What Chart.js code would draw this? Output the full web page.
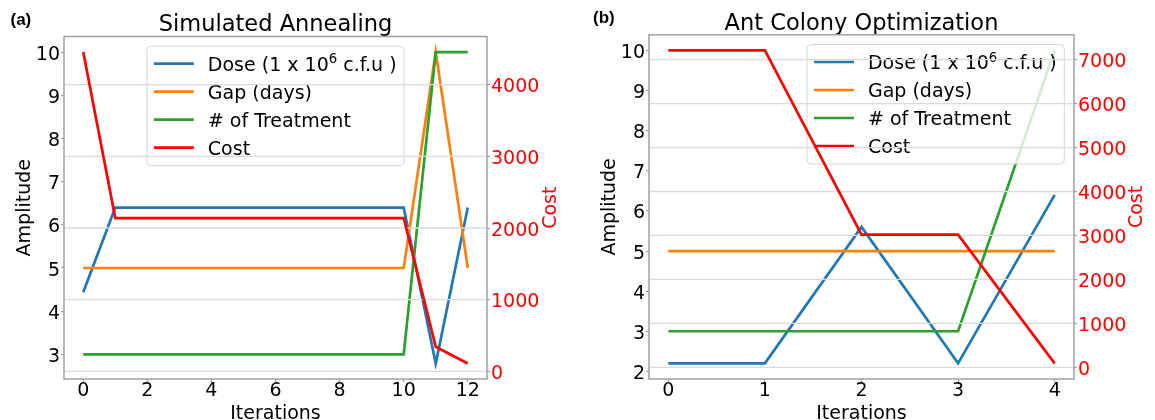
<!DOCTYPE html>
<html><head><meta charset="utf-8">
<script src="https://cdn.jsdelivr.net/npm/chart.js@4.4.0/dist/chart.umd.min.js"></script>
<style>
html,body{margin:0;padding:0;background:#fff;overflow:hidden;width:1155px;height:420px;}
#wrap{position:relative;width:1155px;height:420px;overflow:hidden;background:#fff;}
canvas{position:absolute;top:0;}
</style></head><body>
<div id="wrap">
<canvas id="ca" width="575" height="440" style="left:0px"></canvas>
<canvas id="cb" width="580" height="440" style="left:575px"></canvas>
</div>
<script>
// ---- shared ----
const seriesNames = ['Dose (1 x 10\u2076 c.f.u )', 'Gap (days)', '# of Treatment', 'Cost'];
const seriesColors = ['#1f77b4', '#ff7f0e', '#2ca02c', '#ff0000'];

// ---- (a) Simulated Annealing ----
const saIterations = [0, 1, 2, 3, 4, 5, 6, 7, 8, 9, 10, 11, 12];
const saDose      = [4.44, 6.4, 6.4, 6.4, 6.4, 6.4, 6.4, 6.4, 6.4, 6.4, 6.4, 2.79, 6.4];
const saGap       = [5, 5, 5, 5, 5, 5, 5, 5, 5, 5, 5, 10, 5];
const saTreatment = [3, 3, 3, 3, 3, 3, 3, 3, 3, 3, 3, 10, 10];
const saCost      = [4454, 2139, 2139, 2139, 2139, 2139, 2139, 2139, 2139, 2139, 2139, 344, 111];
const saXTicks    = [0, 2, 4, 6, 8, 10, 12];
const saAmpTicks  = [3, 4, 5, 6, 7, 8, 9, 10];
const saCostTicks = [0, 1000, 2000, 3000, 4000];

// ---- (b) Ant Colony Optimization ----
const acoIterations = [0, 1, 2, 3, 4];
const acoDose      = [2.2, 2.2, 5.6, 2.2, 6.4];
const acoGap       = [5, 5, 5, 5, 5];
const acoTreatment = [3, 3, 3, 3, 10];
const acoCost      = [7210, 7210, 3020, 3020, 90];
const acoXTicks    = [0, 1, 2, 3, 4];
const acoAmpTicks  = [2, 3, 4, 5, 6, 7, 8, 9, 10];
const acoCostTicks = [0, 1000, 2000, 3000, 4000, 5000, 6000, 7000];

const F = 'DejaVu Sans';
const FS = 19;
const TICKC = '#a0a0a0';

const panels = [
  { canvas: 'ca', title: 'Simulated Annealing', tag: '(a)', tagX: 10.5, tagY: 24.7,
    x: saIterations, series: [saDose, saGap, saTreatment, saCost],
    xTicks: saXTicks, ampTicks: saAmpTicks, costTicks: saCostTicks,
    leftW: 64, rightW: 88, titlePad: {top: 13.5, bottom: 0.5}, ampPad: 13.5, costX: 550.8, legend: 'center' },
  { canvas: 'cb', title: 'Ant Colony Optimization', tag: '(b)', tagX: 18, tagY: 23.1,
    x: acoIterations, series: [acoDose, acoGap, acoTreatment, acoCost],
    xTicks: acoXTicks, ampTicks: acoAmpTicks, costTicks: acoCostTicks,
    leftW: 74, rightW: 81, titlePad: {top: 12.5, bottom: -0.2}, ampPad: 23.8, costX: 562, legend: 'right' }
];

function padRange(arrs) {
  let mn = Infinity, mx = -Infinity;
  arrs.forEach(a => a.forEach(v => { mn = Math.min(mn, v); mx = Math.max(mx, v); }));
  const r = mx - mn;
  return [mn - 0.05 * r, mx + 0.05 * r];
}

function makeDecor(p) {
  function drawLegend(chart) {
    const ctx = chart.ctx, ca = chart.chartArea;
    const fBase = FS + 'px "' + F + '"', fSup = (FS * 0.7) + 'px "' + F + '"';
    ctx.save();
    const widths = seriesNames.map(n => {
      ctx.font = fBase;
      const parts = n.split('\u2076');
      if (parts.length === 1) return ctx.measureText(n).width;
      let w = ctx.measureText(parts[0]).width + ctx.measureText(parts[1]).width;
      ctx.font = fSup; w += ctx.measureText('6').width;
      return w;
    });
    const boxW = 61 + Math.max(...widths) + 7.6, boxH = 119.5;
    const top = ca.top + 9.7;
    const left = p.legend === 'center' ? (ca.left + ca.right) / 2 - boxW / 2 : ca.right - 9.7 - boxW;
    const r = 4;
    ctx.beginPath();
    ctx.moveTo(left + r, top);
    ctx.arcTo(left + boxW, top, left + boxW, top + boxH, r);
    ctx.arcTo(left + boxW, top + boxH, left, top + boxH, r);
    ctx.arcTo(left, top + boxH, left, top, r);
    ctx.arcTo(left, top, left + boxW, top, r);
    ctx.closePath();
    ctx.fillStyle = 'rgba(255,255,255,0.8)';
    ctx.fill();
    ctx.strokeStyle = 'rgba(204,204,204,0.8)';
    ctx.lineWidth = 1;
    ctx.stroke();
    seriesNames.forEach((n, i) => {
      const y = top + 17.5 + 28 * i;
      ctx.beginPath();
      ctx.moveTo(left + 7, y); ctx.lineTo(left + 47, y);
      ctx.strokeStyle = seriesColors[i]; ctx.lineWidth = 2.7; ctx.lineCap = 'butt';
      ctx.stroke();
      ctx.fillStyle = '#000';
      ctx.textAlign = 'left'; ctx.textBaseline = 'alphabetic';
      const by = y + 6.9;
      let x = left + 61;
      const parts = n.split('\u2076');
      ctx.font = fBase;
      ctx.fillText(parts[0], x, by);
      if (parts.length > 1) {
        x += ctx.measureText(parts[0]).width;
        ctx.font = fSup;
        ctx.fillText('6', x, by - 7.4);
        x += ctx.measureText('6').width;
        ctx.font = fBase;
        ctx.fillText(parts[1], x, by);
      }
    });
    ctx.restore();
  }
  function drawCostGrid(chart) {
    const ctx = chart.ctx, ca = chart.chartArea, s = chart.scales.y1;
    ctx.save();
    ctx.strokeStyle = '#dadada'; ctx.lineWidth = 1.3;
    p.costTicks.forEach(v => {
      const y = s.getPixelForValue(v);
      ctx.beginPath(); ctx.moveTo(ca.left, y); ctx.lineTo(ca.right, y); ctx.stroke();
    });
    ctx.restore();
  }
  return {
    id: 'mplDecor',
    beforeDraw(chart) {
      ['y', 'y1'].forEach(id => {
        const items = chart.scales[id].getLabelItems();
        items.forEach(it => { if (!it.__sh) { it.options.translation[1] += 2.6; it.__sh = true; } });
      });
    },
    beforeDatasetDraw(chart, args) {
      if (args.meta.yAxisID === 'y1') { drawLegend(chart); drawCostGrid(chart); }
    },
    afterDraw(chart) {
      const ctx = chart.ctx, ca = chart.chartArea;
      ctx.save();
      ctx.strokeStyle = TICKC; ctx.lineWidth = 1.5;
      ctx.strokeRect(ca.left, ca.top, ca.right - ca.left, ca.bottom - ca.top);
      ctx.fillStyle = '#ff0000';
      ctx.font = FS + 'px "' + F + '"';
      ctx.translate(p.costX, (ca.top + ca.bottom) / 2);
      ctx.rotate(-Math.PI / 2);
      ctx.textAlign = 'center'; ctx.textBaseline = 'middle';
      ctx.fillText('Cost', 0, 0);
      ctx.restore();
      ctx.save();
      ctx.fillStyle = '#000';
      ctx.font = 'bold 17px "Liberation Sans"';
      ctx.textAlign = 'left'; ctx.textBaseline = 'alphabetic';
      ctx.fillText(p.tag, p.tagX, p.tagY);
      ctx.restore();
    }
  };
}

panels.forEach(p => {
  const [xmin, xmax] = padRange([p.x]);
  const [amin, amax] = padRange(p.series.slice(0, 3));
  const [cmin, cmax] = padRange([p.series[3]]);
  const datasets = p.series.map((vals, i) => ({
    label: seriesNames[i],
    data: vals.map((v, j) => ({x: p.x[j], y: v})),
    borderColor: seriesColors[i], backgroundColor: seriesColors[i],
    borderWidth: 2.7, pointRadius: 0, pointHoverRadius: 0, tension: 0, fill: false,
    borderJoinStyle: 'miter',
    yAxisID: i === 3 ? 'y1' : 'y', order: 4 - i
  }));
  const tickFont = {family: F, size: FS, lineHeight: 1};
  new Chart(document.getElementById(p.canvas), {
    type: 'line',
    data: {datasets},
    options: {
      responsive: false, animation: false, devicePixelRatio: 1,
      layout: {padding: 0},
      plugins: {
        legend: {display: false}, tooltip: {enabled: false},
        title: {display: true, text: p.title, fullSize: false, color: '#000',
                font: {family: F, size: 22.5, weight: 'normal', lineHeight: 1}, padding: p.titlePad}
      },
      scales: {
        x: {
          type: 'linear', position: 'bottom', min: xmin, max: xmax,
          afterBuildTicks: s => { s.ticks = p.xTicks.map(v => ({value: v})); },
          afterFit: s => { s.height = 61; },
          ticks: {font: tickFont, color: '#000', padding: 0, maxRotation: 0, autoSkip: false, callback: v => String(v)},
          grid: {drawOnChartArea: false, drawTicks: true, tickLength: 3, tickColor: TICKC, tickWidth: 1.2},
          border: {display: false},
          title: {display: true, text: 'Iterations', color: '#000', font: {family: F, size: FS, lineHeight: 1.2}, padding: {top: 0, bottom: 14.4}}
        },
        y: {
          type: 'linear', position: 'left', min: amin, max: amax,
          afterBuildTicks: s => { s.ticks = p.ampTicks.map(v => ({value: v})); },
          afterFit: s => { s.width = p.leftW; },
          ticks: {font: tickFont, color: '#000', padding: 1, autoSkip: false, callback: v => String(v)},
          grid: {drawOnChartArea: false, drawTicks: true, tickLength: 3, tickColor: TICKC, tickWidth: 1.2},
          border: {display: false},
          title: {display: true, text: 'Amplitude', color: '#000', font: {family: F, size: FS, lineHeight: 1.2}, padding: {top: p.ampPad, bottom: 0}}
        },
        y1: {
          type: 'linear', position: 'right', min: cmin, max: cmax,
          afterBuildTicks: s => { s.ticks = p.costTicks.map(v => ({value: v})); },
          afterFit: s => { s.width = p.rightW; },
          ticks: {font: tickFont, color: '#ff0000', padding: 1, autoSkip: false, callback: v => String(v)},
          grid: {drawOnChartArea: false, drawTicks: true, tickLength: 3, tickColor: TICKC, tickWidth: 1.2},
          border: {display: false},
          title: {display: false}
        }
      }
    },
    plugins: [makeDecor(p)]
  });
});
</script>
</body></html>
